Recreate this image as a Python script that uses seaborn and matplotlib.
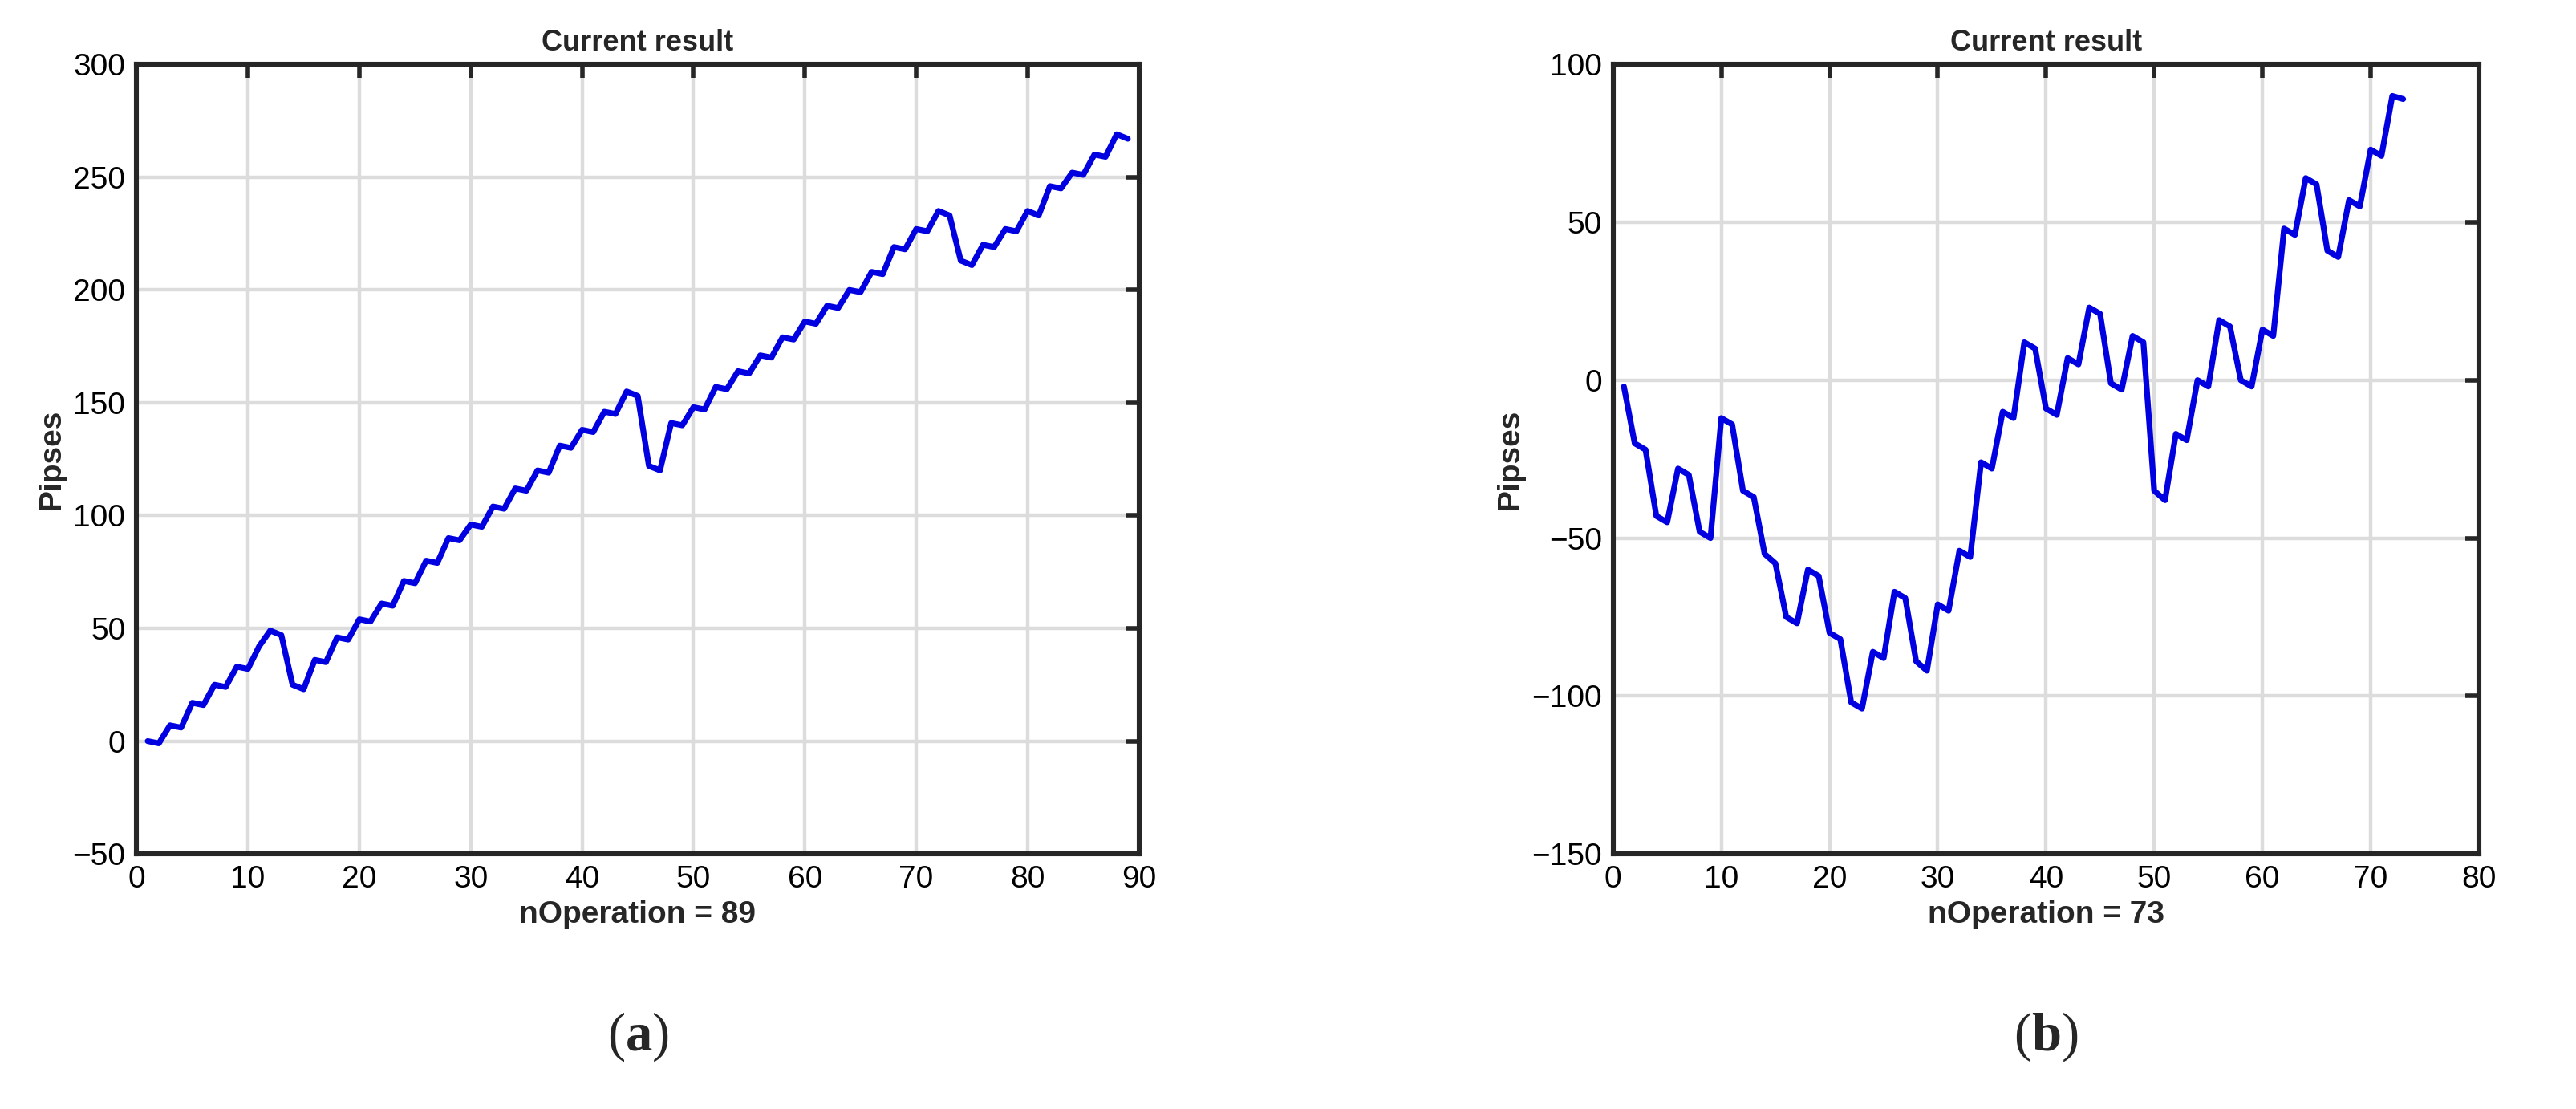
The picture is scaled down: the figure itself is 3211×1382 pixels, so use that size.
import numpy as np
import pandas as pd
import matplotlib.pyplot as plt
import seaborn as sns

# Series (a): nOperation = 89
pips_a = [0, -1, 7, 6, 17, 16, 25, 24, 33, 32, 42, 49, 47, 25, 23, 36, 35, 46, 45, 54,
          53, 61, 60, 71, 70, 80, 79, 90, 89, 96, 95, 104, 103, 112, 111, 120, 119, 131, 130, 138,
          137, 146, 145, 155, 153, 122, 120, 141, 140, 148, 147, 157, 156, 164, 163, 171, 170, 179, 178, 186,
          185, 193, 192, 200, 199, 208, 207, 219, 218, 227, 226, 235, 233, 213, 211, 220, 219, 227, 226, 235,
          233, 246, 245, 252, 251, 260, 259, 269, 267]
# Series (b): nOperation = 73
pips_b = [-2, -20, -22, -43, -45, -28, -30, -48, -50, -12, -14, -35, -37, -55, -58, -75, -77, -60, -62, -80,
          -82, -102, -104, -86, -88, -67, -69, -89, -92, -71, -73, -54, -56, -26, -28, -10, -12, 12, 10, -9,
          -11, 7, 5, 23, 21, -1, -3, 14, 12, -35, -38, -17, -19, 0, -2, 19, 17, 0, -2, 16,
          14, 48, 46, 64, 62, 41, 39, 57, 55, 73, 71, 90, 89]

df_a = pd.DataFrame({"op": np.arange(1, len(pips_a) + 1), "pips": pips_a})
df_b = pd.DataFrame({"op": np.arange(1, len(pips_b) + 1), "pips": pips_b})

sns.set_style("white")
plt.rcParams['font.family'] = ['Liberation Sans', 'DejaVu Sans']
plt.rcParams['mathtext.fontset'] = 'custom'
plt.rcParams['mathtext.bf'] = 'Liberation Serif:bold'
plt.rcParams['mathtext.rm'] = 'Liberation Serif'

fig = plt.figure(figsize=(16.06, 6.91), dpi=200)
ax1 = fig.add_axes([0.053, 0.23, 0.389, 0.712])
ax2 = fig.add_axes([0.626, 0.23, 0.336, 0.712])

panels = [
    (ax1, df_a, (0, 90), (-50, 300), np.arange(0, 91, 10), np.arange(-50, 301, 50), "nOperation = 89", "a"),
    (ax2, df_b, (0, 80), (-150, 100), np.arange(0, 81, 10), np.arange(-150, 101, 50), "nOperation = 73", "b"),
]
for ax, df, xl, yl, xt, yt, xlab, cap in panels:
    sns.lineplot(data=df, x="op", y="pips", ax=ax, color="#0000e0", linewidth=2.6)
    ax.set_xlim(xl)
    ax.set_ylim(yl)
    ax.set_xticks(xt)
    ax.set_yticks(yt)
    ax.grid(True, color="#dcdcdc", linewidth=1.6)
    ax.set_axisbelow(True)
    for s in ax.spines.values():
        s.set_linewidth(2.2)
        s.set_color("#262626")
    ax.tick_params(direction="in", length=6, width=2, labelsize=14, top=True, right=True,
                   colors="#262626", labelcolor="black", pad=5)
    ax.set_title("Current result", fontsize=13, fontweight="bold", pad=6)
    ax.set_xlabel(xlab, fontsize=14, fontweight="bold", labelpad=3)
    ax.set_ylabel("Pipses", fontsize=14, fontweight="bold", labelpad=3)
    pos = ax.get_position()
    fig.text((pos.x0 + pos.x1) / 2, 0.065, r"($\mathbf{%s}$)" % cap, ha="center", va="center",
             fontsize=24, family=['Liberation Serif', 'DejaVu Serif'])

fig.savefig("out.png", dpi=200, facecolor="white")
